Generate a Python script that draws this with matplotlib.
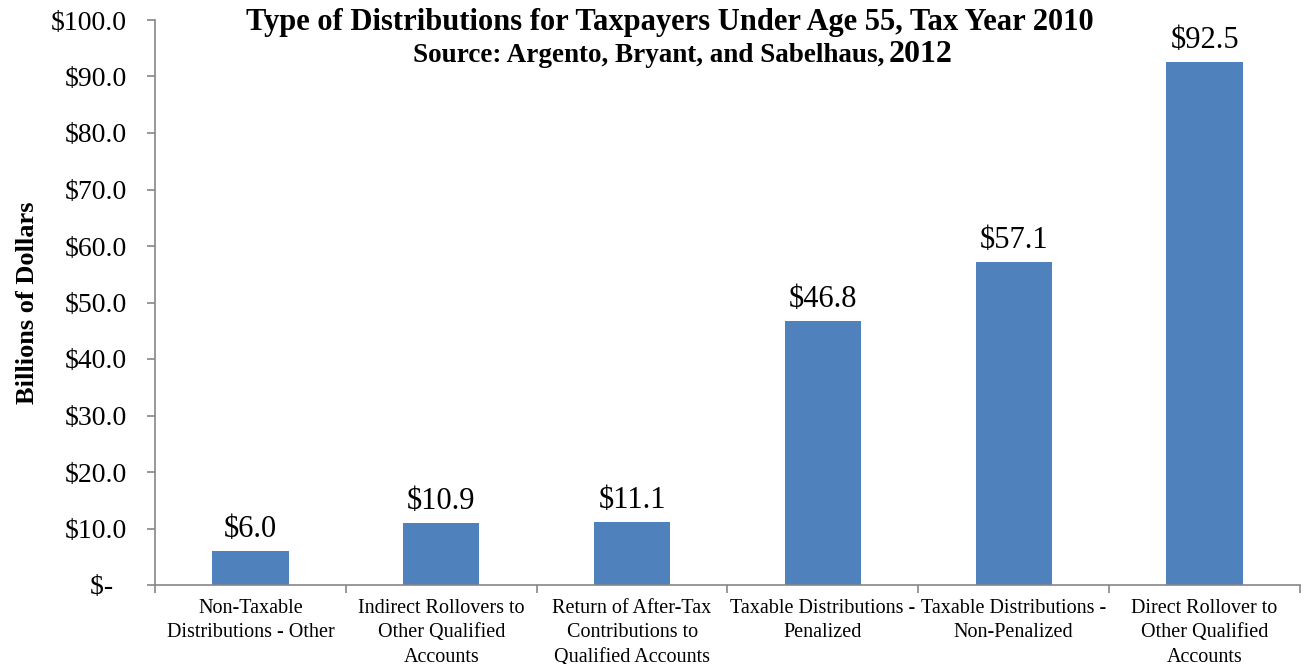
import matplotlib
matplotlib.use("Agg")
import matplotlib.pyplot as plt
from matplotlib.ticker import FixedLocator, FuncFormatter

plt.rcParams['font.family'] = ['Liberation Serif', 'DejaVu Serif']

categories = [
    "Non-Taxable\nDistributions - Other",
    "Indirect Rollovers to\nOther Qualified\nAccounts",
    "Return of After-Tax\nContributions to\nQualified Accounts",
    "Taxable Distributions -\nPenalized",
    "Taxable Distributions -\nNon-Penalized",
    "Direct Rollover to\nOther Qualified\nAccounts",
]
values = [6.0, 10.9, 11.1, 46.8, 57.1, 92.5]
y_ticks = [0, 10, 20, 30, 40, 50, 60, 70, 80, 90, 100]

bar_color = "#4F81BD"
axis_gray = "#868686"


def dollar_label(v, pos=None):
    # accounting style: zero shown as a dash, padded like the currency column
    return "$-  " if v == 0 else f"${v:.1f}"


fig = plt.figure(figsize=(13.06, 6.64), dpi=100)
ax = fig.add_axes([155 / 1306, 1 - 585 / 664, 1145 / 1306, 565 / 664])

x = list(range(len(values)))
ax.bar(x, values, width=0.4, color=bar_color, zorder=2)

for xi, v in zip(x, values):
    ax.annotate(f"${v:.1f}", (xi, v), xytext=(0, 5), textcoords="offset points",
                ha="center", va="bottom", fontsize=22)

ax.set_xlim(-0.5, len(values) - 0.5)
ax.set_ylim(0, 100)

ax.yaxis.set_major_locator(FixedLocator(y_ticks))
ax.yaxis.set_major_formatter(FuncFormatter(dollar_label))
ax.tick_params(axis="y", direction="out", length=6, width=1.2, color=axis_gray,
               labelsize=20, pad=14)

ax.set_xticks(x)
ax.set_xticklabels(categories, fontsize=14.5, linespacing=1.38)
ax.set_xticks([i - 0.5 for i in range(len(values) + 1)], minor=True)
ax.tick_params(axis="x", which="major", length=0, pad=10)
ax.tick_params(axis="x", which="minor", direction="out", length=6, width=1.2,
               color=axis_gray)

for side in ("top", "right"):
    ax.spines[side].set_visible(False)
for side in ("left", "bottom"):
    ax.spines[side].set_color(axis_gray)
    ax.spines[side].set_linewidth(1.2)

ax.set_ylabel("Billions of Dollars", fontsize=19, fontweight="bold", labelpad=9)

fig.text(670 / 1306, 1 - 30 / 664,
         "Type of Distributions for Taxpayers Under Age 55, Tax Year 2010",
         ha="center", va="baseline", fontsize=22, fontweight="bold")
fig.text(884 / 1306, 1 - 62 / 664, "Source: Argento, Bryant, and Sabelhaus,",
         ha="right", va="baseline", fontsize=19.5, fontweight="bold")
fig.text(889 / 1306, 1 - 62 / 664, "2012",
         ha="left", va="baseline", fontsize=23, fontweight="bold")

fig.savefig("out.png", dpi=100)
